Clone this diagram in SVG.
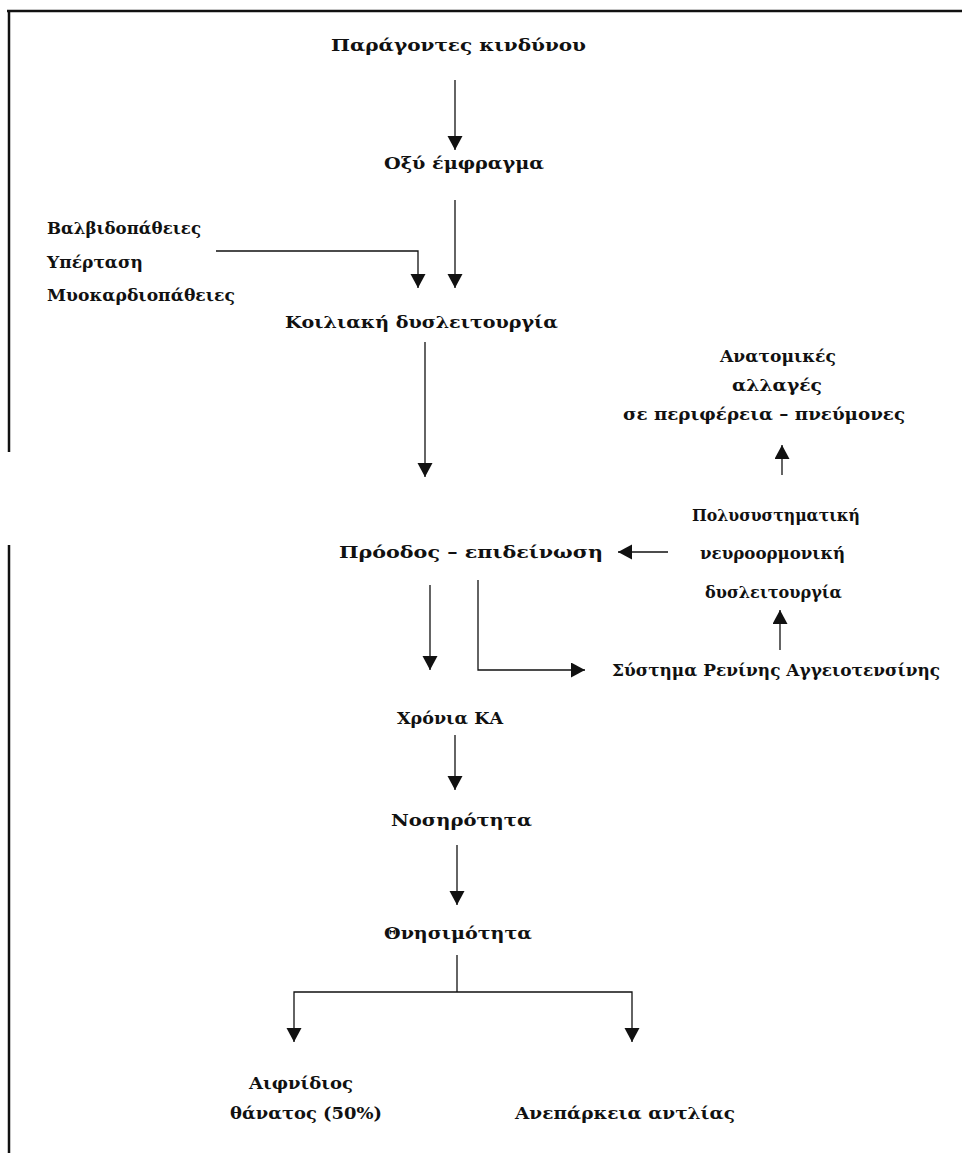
<svg xmlns="http://www.w3.org/2000/svg" width="962" height="1153" viewBox="0 0 962 1153">
<defs>
<style>
text{font-family:"DejaVu Serif","Liberation Serif",serif;font-weight:bold;font-size:17px;fill:#111}
.c{fill:none;stroke:#111;stroke-width:1.3}
.b{fill:none;stroke:#111;stroke-width:2.5}
</style>
<marker id="ah" markerUnits="userSpaceOnUse" markerWidth="16" markerHeight="16" refX="14" refY="7.5" orient="auto">
<path d="M0,0 L14,7.5 L0,15 Z" fill="#111"/>
</marker>
</defs>
<rect width="962" height="1153" fill="#fff"/>
<g id="border">
<path class="b" d="M7,11 H962 M9,11 V452 M9,545 V1153"/>
</g>
<g id="connectors">
<path class="c" d="M455,80 V150" marker-end="url(#ah)"/>
<path class="c" d="M455,200 V288" marker-end="url(#ah)"/>
<path class="c" d="M216,251 H418 V288" marker-end="url(#ah)"/>
<path class="c" d="M425,342 V477" marker-end="url(#ah)"/>
<path class="c" d="M668,552 H618" marker-end="url(#ah)"/>
<path class="c" d="M782,475 V445" marker-end="url(#ah)"/>
<path class="c" d="M780,650 V610" marker-end="url(#ah)"/>
<path class="c" d="M430,585 V670" marker-end="url(#ah)"/>
<path class="c" d="M478,580 V670 H585" marker-end="url(#ah)"/>
<path class="c" d="M455,735 V790" marker-end="url(#ah)"/>
<path class="c" d="M457,845 V905" marker-end="url(#ah)"/>
<path class="c" d="M457,955 V992"/>
<path class="c" d="M457,992 H294 V1042" marker-end="url(#ah)"/>
<path class="c" d="M457,992 H632 V1042" marker-end="url(#ah)"/>
</g>
<g id="n-risk"><text x="331" y="51" textLength="255" lengthAdjust="spacingAndGlyphs">Παράγοντες κινδύνου</text></g>
<g id="n-mi"><text x="384" y="169" textLength="160" lengthAdjust="spacingAndGlyphs">Οξύ έμφραγμα</text></g>
<g id="n-causes">
<text x="47" y="234" textLength="154" lengthAdjust="spacingAndGlyphs">Βαλβιδοπάθειες</text>
<text x="47" y="268" textLength="96" lengthAdjust="spacingAndGlyphs">Υπέρταση</text>
<text x="47" y="301" textLength="188" lengthAdjust="spacingAndGlyphs">Μυοκαρδιοπάθειες</text>
</g>
<g id="n-vd"><text x="285" y="328" textLength="273" lengthAdjust="spacingAndGlyphs">Κοιλιακή δυσλειτουργία</text></g>
<g id="n-anat">
<text x="720" y="362" textLength="116" lengthAdjust="spacingAndGlyphs">Ανατομικές</text>
<text x="732" y="391" textLength="90" lengthAdjust="spacingAndGlyphs">αλλαγές</text>
<text x="623" y="420" textLength="282" lengthAdjust="spacingAndGlyphs">σε περιφέρεια – πνεύμονες</text>
</g>
<g id="n-prog"><text x="339" y="558" textLength="264" lengthAdjust="spacingAndGlyphs">Πρόοδος – επιδείνωση</text></g>
<g id="n-neuro">
<text x="692" y="521" textLength="168" lengthAdjust="spacingAndGlyphs">Πολυσυστηματική</text>
<text x="700" y="559" textLength="145" lengthAdjust="spacingAndGlyphs">νευροορμονική</text>
<text x="705" y="598" textLength="137" lengthAdjust="spacingAndGlyphs">δυσλειτουργία</text>
</g>
<g id="n-raas"><text x="612" y="676" textLength="328" lengthAdjust="spacingAndGlyphs">Σύστημα Ρενίνης Αγγειοτενσίνης</text></g>
<g id="n-chf"><text x="397" y="724" textLength="106" lengthAdjust="spacingAndGlyphs">Χρόνια ΚΑ</text></g>
<g id="n-morb"><text x="391" y="826" textLength="141" lengthAdjust="spacingAndGlyphs">Νοσηρότητα</text></g>
<g id="n-mort"><text x="384" y="939" textLength="148" lengthAdjust="spacingAndGlyphs">Θνησιμότητα</text></g>
<g id="n-sudden">
<text x="249" y="1089" textLength="104" lengthAdjust="spacingAndGlyphs">Αιφνίδιος</text>
<text x="230" y="1119" textLength="152" lengthAdjust="spacingAndGlyphs">θάνατος (50%)</text>
</g>
<g id="n-pump"><text x="515" y="1119" textLength="220" lengthAdjust="spacingAndGlyphs">Ανεπάρκεια αντλίας</text></g>
</svg>
